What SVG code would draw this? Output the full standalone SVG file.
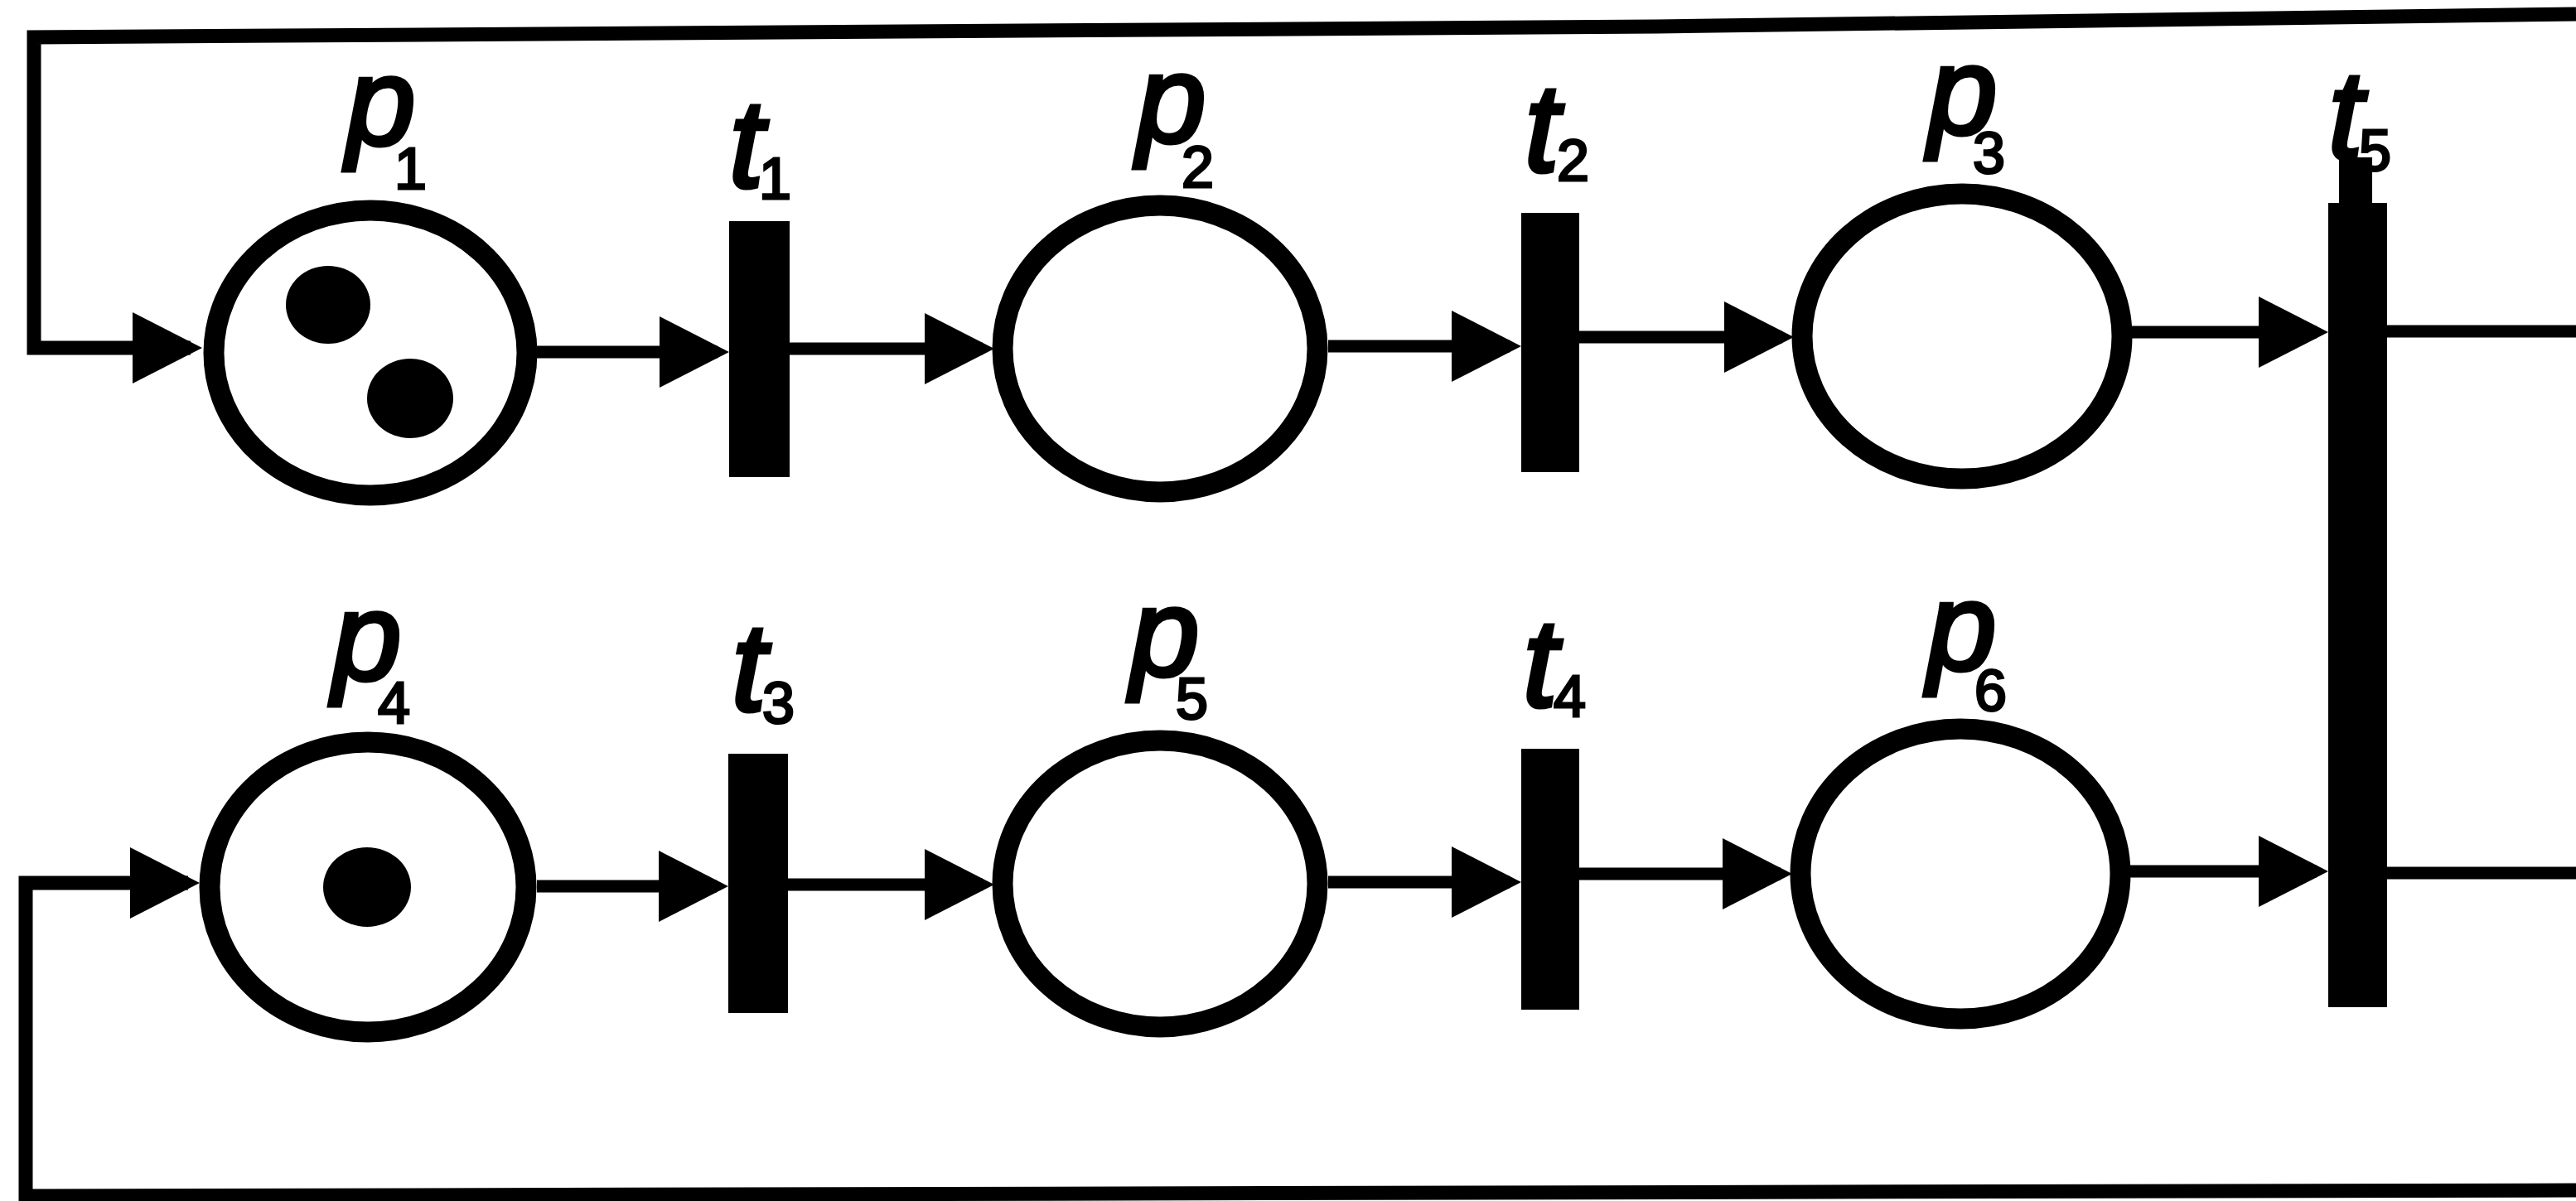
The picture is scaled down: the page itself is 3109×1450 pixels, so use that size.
<svg xmlns="http://www.w3.org/2000/svg" width="3109" height="1450" viewBox="0 0 3109 1450">
<style>
  .place { fill: #fff; stroke: #000; stroke-width: 25; }
  .token { fill: #000; }
  .trans { fill: #000; }
  .arc { fill: none; stroke: #000; stroke-width: 15; }
  .loop { fill: none; stroke: #000; stroke-width: 17; }
  .lbl { font-family: "Liberation Sans", Arial, sans-serif; font-style: italic; font-size: 150px; fill: #000; stroke: #000; stroke-width: 5; }
  .sub { font-style: normal; font-size: 70px; stroke-width: 3; }
</style>
<defs>
  <marker id="ah" markerUnits="userSpaceOnUse" markerWidth="86" markerHeight="88" refX="70" refY="43" orient="auto">
    <path d="M0,0 L84,43 L0,86 Z" fill="#000"/>
  </marker>
</defs>
<rect width="3109" height="1450" fill="#fff"/>

<g id="connectors">
  <path class="loop" d="M3109,17 L2000,32 L41,45 L41,420 L230,420" marker-end="url(#ah)"/>
  <path class="loop" d="M3109,1437 L31,1444 L31,1066 L227,1066" marker-end="url(#ah)"/>
  <path class="arc" d="M648,425 L866,425" marker-end="url(#ah)"/>
  <path class="arc" d="M953,421 L1186,421" marker-end="url(#ah)"/>
  <path class="arc" d="M1603,418 L1822,418" marker-end="url(#ah)"/>
  <path class="arc" d="M1906,407 L2151,407" marker-end="url(#ah)"/>
  <path class="arc" d="M2573,401 L2796,401" marker-end="url(#ah)"/>
  <path class="arc" d="M2881,400 L3109,400"/>
  <path class="arc" d="M648,1070 L865,1070" marker-end="url(#ah)"/>
  <path class="arc" d="M951,1068 L1186,1068" marker-end="url(#ah)"/>
  <path class="arc" d="M1603,1065 L1822,1065" marker-end="url(#ah)"/>
  <path class="arc" d="M1906,1055 L2149,1055" marker-end="url(#ah)"/>
  <path class="arc" d="M2571,1052 L2796,1052" marker-end="url(#ah)"/>
  <path class="arc" d="M2881,1054 L3109,1054"/>
</g>

<g id="p1">
  <ellipse class="place" cx="447" cy="426" rx="189" ry="172"/>
  <ellipse class="token" cx="396" cy="368" rx="51" ry="47"/>
  <ellipse class="token" cx="495" cy="481" rx="52" ry="48"/>
  <text class="lbl" x="418" y="175">p<tspan class="sub" x="476" y="228">1</tspan></text>
</g>
<g id="t1">
  <rect class="trans" x="880" y="267" width="73" height="309"/>
  <text class="lbl" x="880" y="226">t<tspan class="sub" x="916" y="240">1</tspan></text>
</g>
<g id="p2">
  <ellipse class="place" cx="1400" cy="421" rx="190" ry="173"/>
  <text class="lbl" x="1372" y="172">p<tspan class="sub" x="1426" y="226">2</tspan></text>
</g>
<g id="t2">
  <rect class="trans" x="1836" y="257" width="70" height="313"/>
  <text class="lbl" x="1840" y="207">t<tspan class="sub" x="1879" y="218">2</tspan></text>
</g>
<g id="p3">
  <ellipse class="place" cx="2368" cy="406" rx="193" ry="172"/>
  <text class="lbl" x="2327" y="162">p<tspan class="sub" x="2381" y="209">3</tspan></text>
</g>
<g id="t5">
  <rect class="trans" x="2810" y="245" width="71" height="971"/>
  <rect class="trans" x="2823" y="190" width="40" height="60"/>
  <text class="lbl" x="2810" y="191">t<tspan class="sub" x="2847" y="206">5</tspan></text>
</g>
<g id="p4">
  <ellipse class="place" cx="444" cy="1071" rx="191" ry="175"/>
  <ellipse class="token" cx="443" cy="1071" rx="53" ry="48"/>
  <text class="lbl" x="401" y="821">p<tspan class="sub" x="456" y="873">4</tspan></text>
</g>
<g id="t3">
  <rect class="trans" x="879" y="910" width="72" height="313"/>
  <text class="lbl" x="883" y="858">t<tspan class="sub" x="920" y="873">3</tspan></text>
</g>
<g id="p5">
  <ellipse class="place" cx="1400" cy="1067" rx="190" ry="173"/>
  <text class="lbl" x="1364" y="816">p<tspan class="sub" x="1419" y="868">5</tspan></text>
</g>
<g id="t4">
  <rect class="trans" x="1836" y="904" width="70" height="315"/>
  <text class="lbl" x="1838" y="853">t<tspan class="sub" x="1875" y="865">4</tspan></text>
</g>
<g id="p6">
  <ellipse class="place" cx="2366" cy="1055" rx="193" ry="175"/>
  <text class="lbl" x="2326" y="809">p<tspan class="sub" x="2383" y="858">6</tspan></text>
</g>
</svg>
